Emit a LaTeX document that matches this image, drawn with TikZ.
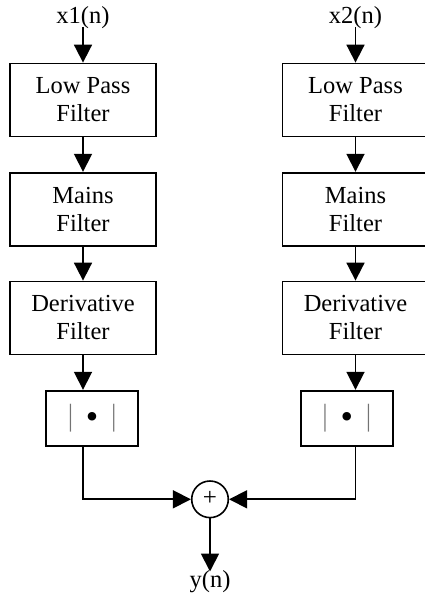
\documentclass[tikz,border=0pt]{standalone}
\usepackage{fontspec}
\usepackage{graphicx}
\setmainfont{Liberation Serif}
\usetikzlibrary{arrows.meta}
\tikzset{
  blk/.style={draw, line width=1.8pt, minimum width=146pt, minimum height=73pt, inner sep=0pt, align=center, font=\fontsize{24.5}{28}\selectfont},
  absblk/.style={draw, line width=1.8pt, minimum width=92pt, minimum height=55pt, inner sep=0pt, font=\fontsize{24.5}{28}\selectfont},
  lbl/.style={inner sep=0pt, anchor=base, font=\fontsize{24.5}{28}\selectfont},
  sumnode/.style={draw, circle, line width=1.6pt, minimum size=36.6pt, inner sep=0pt, font=\fontsize{25}{26}\selectfont},
  conn/.style={line width=1.8pt, -{Triangle[length=18pt,width=18pt]}},
}
\newcommand{\absbar}{\textcolor{black!55}{\scalebox{1}[1.25]{|}}}
\newcommand{\absmark}{\absbar\hspace{13pt}\raisebox{-2.5pt}{\scalebox{1.45}{\textbullet}}\hspace{13pt}\absbar}
\begin{document}
\begin{tikzpicture}[x=1pt,y=-1pt]
\clip (0,0) rectangle (425,594);
% inputs
\node[lbl] (x1) at (83,23.5) {x1(n)};
\node[lbl] (x2) at (355.5,23.5) {x2(n)};
% left column
\node[blk] (lpf1) at (83,100) {Low Pass\\Filter};
\node[blk] (mf1) at (83,209.2) {Mains\\Filter};
\node[blk] (df1) at (83,318) {Derivative\\Filter};
\node[absblk] (ab1) at (92.2,418.2) {\absmark};
% right column
\node[blk] (lpf2) at (355.5,100) {Low Pass\\Filter};
\node[blk] (mf2) at (355.5,209.2) {Mains\\Filter};
\node[blk] (df2) at (355.5,318) {Derivative\\Filter};
\node[absblk] (ab2) at (346.8,418.2) {\absmark};
% sum
\node[sumnode] (sum) at (210,499.3) {\raisebox{1pt}{+}};
\node[lbl] (y) at (210,587.5) {y(n)};
\coordinate (x1s) at (83,27);
\coordinate (x2s) at (355.5,27);
\coordinate (ytip) at (210,571.5);
% connectors
\draw[conn] (x1s) -- (lpf1.north);
\draw[conn] (lpf1) -- (mf1);
\draw[conn] (mf1) -- (df1);
\draw[conn] (df1.south) -- (df1.south |- ab1.north);
\draw[conn] (x2s) -- (lpf2.north);
\draw[conn] (lpf2) -- (mf2);
\draw[conn] (mf2) -- (df2);
\draw[conn] (df2.south) -- (df2.south |- ab2.north);
\draw[conn] (ab1.south -| df1.south) |- (sum.west);
\draw[conn] (ab2.south -| df2.south) |- (sum.east);
\draw[conn] (sum.south) -- (ytip);
\end{tikzpicture}
\end{document}
